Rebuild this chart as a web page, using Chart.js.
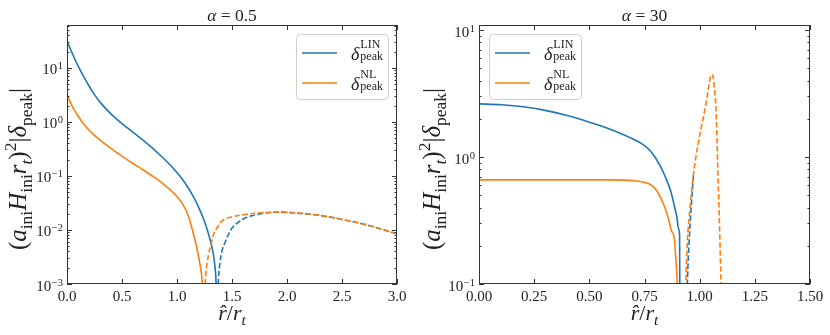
<!DOCTYPE html>
<html>
<head>
<meta charset="utf-8">
<script src="https://cdn.jsdelivr.net/npm/chart.js@4.4.1/dist/chart.umd.min.js"></script>
<style>
  body { margin: 0; background: #fff; }
  #wrap { position: relative; width: 830px; height: 335px; }
  .panel { position: absolute; top: 0; width: 415px; height: 335px; }
</style>
</head>
<body>
<div id="wrap">
  <div class="panel" style="left:0"><canvas id="left" width="415" height="335"></canvas></div>
  <div class="panel" style="left:415px"><canvas id="right" width="415" height="335"></canvas></div>
</div>
<script>
// ---- left panel, alpha = 0.5 ----
const leftLinR = [0, 0.06, 0.12, 0.18, 0.24, 0.31, 0.39, 0.47, 0.543, 0.62, 0.694, 0.77, 0.845, 0.92, 0.997, 1.07, 1.148, 1.2, 1.25, 1.3, 1.33, 1.35, 1.36];
const leftLinD = [31.6, 16.3, 9.12, 5.47, 3.42, 2.21, 1.476, 1.05, 0.796, 0.6, 0.455, 0.338, 0.245, 0.174, 0.1175, 0.0759, 0.042, 0.0254, 0.0143, 0.00676, 0.00363, 0.00166, 0.0005];
const leftNlR = [0, 0.04, 0.088, 0.16, 0.24, 0.31, 0.39, 0.47, 0.543, 0.62, 0.694, 0.77, 0.845, 0.92, 0.966, 1.01, 1.057, 1.1, 1.14, 1.18, 1.21, 1.225, 1.237];
const leftNlD = [3.26, 2.09, 1.41, 0.869, 0.59, 0.445, 0.334, 0.256, 0.203, 0.161, 0.129, 0.102, 0.0794, 0.0598, 0.0492, 0.0394, 0.0288, 0.019, 0.01, 0.0047, 0.00224, 0.0014, 0.0005];
const leftLinNegR = [1.37, 1.378, 1.39, 1.41, 1.436, 1.47, 1.51, 1.57, 1.63, 1.7, 1.785, 1.88, 1.95, 2.0, 2.25, 2.5, 2.75, 3.0];
const leftLinNegD = [0.0005, 0.0013, 0.0024, 0.0042, 0.0058, 0.0085, 0.0115, 0.0145, 0.017, 0.0188, 0.0204, 0.0213, 0.0214, 0.0212, 0.0192, 0.0157, 0.012, 0.0085];
const leftNlNegR = [1.252, 1.262, 1.29, 1.315, 1.33, 1.37, 1.42, 1.5, 1.63, 1.75, 1.875, 1.95, 2.0, 2.25, 2.5, 2.75, 3.0];
const leftNlNegD = [0.0005, 0.0015, 0.0038, 0.006, 0.0081, 0.0115, 0.0153, 0.0175, 0.0195, 0.0207, 0.0213, 0.0214, 0.0212, 0.0192, 0.0157, 0.012, 0.0085];

// ---- right panel, alpha = 30 ----
const rightLinR = [0, 0.1, 0.2, 0.3, 0.4, 0.5, 0.6, 0.7, 0.75, 0.78, 0.82, 0.85, 0.87, 0.89, 0.896, 0.905, 0.909, 0.9105];
const rightLinD = [2.62, 2.58, 2.49, 2.33, 2.12, 1.88, 1.64, 1.38, 1.23, 1.1, 0.86, 0.66, 0.53, 0.38, 0.343, 0.27, 0.24, 0.05];
const rightNlR = [0, 0.2, 0.4, 0.6, 0.68, 0.72, 0.75, 0.775, 0.8, 0.82, 0.84, 0.85, 0.86, 0.873, 0.884, 0.9015];
const rightNlD = [0.66, 0.66, 0.66, 0.66, 0.655, 0.645, 0.63, 0.61, 0.56, 0.49, 0.41, 0.365, 0.32, 0.26, 0.235, 0.085];
const rightLinNegR = [0.943, 0.947, 0.952, 0.957, 0.962, 0.967, 0.972];
const rightLinNegD = [0.085, 0.14, 0.21, 0.3, 0.41, 0.55, 0.72];
const rightNlNegR = [0.935, 0.944, 0.956, 0.971, 0.994, 1.01, 1.024, 1.034, 1.042, 1.048, 1.054, 1.058, 1.062, 1.068, 1.074, 1.079, 1.083, 1.088, 1.092, 1.098];
const rightNlNegD = [0.08, 0.21, 0.39, 0.71, 1.30, 1.8, 2.38, 3.0, 3.7, 4.2, 4.45, 4.4, 4.2, 3.3, 2.38, 1.30, 0.71, 0.39, 0.21, 0.085];

// ---- ticks and labels ----
const leftXTicks = [0, 0.5, 1, 1.5, 2, 2.5, 3];
const rightXTicks = [0, 0.25, 0.5, 0.75, 1, 1.25, 1.5];
const leftYDecades = [-3, -2, -1, 0, 1];
const rightYDecades = [-1, 0, 1];
const alphaLeft = '0.5';
const alphaRight = '30';
const seriesNames = ['LIN', 'NL'];

const BLUE = '#1f77b4', ORANGE = '#ff7f0e';
const SERIF = '"Liberation Serif", "DejaVu Serif", serif';

function pts(xs, ys) { return xs.map((x, i) => ({ x: x, y: ys[i] })); }

// draws a row of text parts; style: i italic, _ subscript, ^ superscript
function richText(ctx, parts, x, y, size, align) {
  const items = parts.map(([t, s]) => {
    const small = s.indexOf('_') >= 0 || s.indexOf('^') >= 0;
    const fs = small ? size * 0.7 : size;
    const font = (s.indexOf('i') >= 0 ? 'italic ' : '') + fs.toFixed(1) + 'px ' + SERIF;
    ctx.font = font;
    const dy = s.indexOf('_') >= 0 ? size * 0.22 : s.indexOf('^') >= 0 ? -size * 0.42 : 0;
    return { t: t, font: font, dy: dy, w: ctx.measureText(t).width };
  });
  const total = items.reduce((s, it) => s + it.w, 0);
  let cx = align === 'center' ? x - total / 2 : align === 'right' ? x - total : x;
  ctx.textAlign = 'left';
  ctx.textBaseline = 'alphabetic';
  items.forEach(it => { ctx.font = it.font; ctx.fillText(it.t, cx, y + it.dy); cx += it.w; });
  return total;
}

const framePlugin = {
  id: 'frame',
  afterDraw(chart) {
    const o = chart.options.plugins.frame;
    const { ctx, chartArea: a, scales: { x, y } } = chart;
    ctx.save();
    ctx.strokeStyle = '#333';
    ctx.lineWidth = 1;
    ctx.strokeRect(a.left + 0.5, a.top + 0.5, a.right - a.left - 1, a.bottom - a.top - 1);

    // inward ticks on all four sides
    ctx.beginPath();
    o.xTicks.forEach(v => {
      const px = Math.round(x.getPixelForValue(v)) + 0.5;
      ctx.moveTo(px, a.bottom); ctx.lineTo(px, a.bottom - 5);
      ctx.moveTo(px, a.top); ctx.lineTo(px, a.top + 5);
    });
    o.yDecades.concat([o.yDecades[0] - 1]).forEach(d => {
      for (let m = 1; m < 10; m++) {
        const v = m * Math.pow(10, d);
        if (v < y.min * 0.999 || v > y.max) continue;
        const py = Math.round(y.getPixelForValue(v)) + 0.5;
        const len = m === 1 ? 5 : 2.5;
        ctx.moveTo(a.left, py); ctx.lineTo(a.left + len, py);
        ctx.moveTo(a.right, py); ctx.lineTo(a.right - len, py);
      }
    });
    ctx.stroke();

    ctx.fillStyle = '#222';
    // y tick labels 10^n
    o.yDecades.forEach(d => {
      const py = y.getPixelForValue(Math.pow(10, d));
      const sup = String(d).replace('-', '\u2212');
      ctx.font = '10.5px ' + SERIF;
      const ws = ctx.measureText(sup).width;
      ctx.textAlign = 'left';
      ctx.textBaseline = 'alphabetic';
      ctx.fillText(sup, a.left - 4 - ws, py + 1.5);
      ctx.font = '15px ' + SERIF;
      ctx.textAlign = 'right';
      ctx.fillText('10', a.left - 4.5 - ws, py + 6.5);
    });

    const cx = (a.left + a.right) / 2;
    // title
    richText(ctx, [['\u03b1', 'i'], [' = ' + o.alpha, 'r']], cx, 20.5, 17.5, 'center');
    // x label
    richText(ctx, [['r\u0302', 'i'], ['/', 'r'], ['r', 'i'], ['t', 'i_']], cx, 320, 22, 'center');
    // y label
    ctx.save();
    ctx.translate(o.yLabelX, 169);
    ctx.rotate(-Math.PI / 2);
    richText(ctx, [['(', 'r'], ['a', 'i'], ['ini', '_'], ['H', 'i'], ['ini', '_'], ['r', 'i'], ['t', 'i_'],
      [')', 'r'], ['2', '^'], ['|', 'r'], ['\u03b4', 'i'], ['peak', '_'], ['|', 'r']], 0, 0, 25, 'center');
    ctx.restore();

    // legend
    const bw = 92, bh = 65;
    const bx = o.legendSide === 'right' ? a.right - 9 - bw : a.left + 10;
    const by = a.top + 9;
    ctx.beginPath();
    ctx.roundRect(bx + 0.5, by + 0.5, bw, bh, 4);
    ctx.fillStyle = 'rgba(255,255,255,0.8)';
    ctx.fill();
    ctx.strokeStyle = '#cccccc';
    ctx.stroke();
    const sets = chart.data.datasets.filter(ds => ds.legend).sort((p, q) => p.legendRank - q.legendRank);
    sets.forEach((ds, i) => {
      const ly = by + 19 + i * 30;
      ctx.strokeStyle = ds.borderColor;
      ctx.lineWidth = 1.6;
      ctx.setLineDash([]);
      ctx.beginPath();
      ctx.moveTo(bx + 6, ly); ctx.lineTo(bx + 41, ly);
      ctx.stroke();
      ctx.fillStyle = '#222';
      ctx.textAlign = 'left';
      ctx.textBaseline = 'alphabetic';
      ctx.font = 'italic 18px ' + SERIF;
      const tx = bx + 55;
      ctx.fillText('\u03b4', tx, ly + 7);
      const wd = ctx.measureText('\u03b4').width + 1;
      ctx.font = '12px ' + SERIF;
      ctx.fillText(ds.legend, tx + wd, ly - 5);
      ctx.fillText('peak', tx + wd, ly + 7);
    });
    ctx.restore();
  }
};

function makeChart(id, p) {
  const line = (data, color, dashed, legendIdx) => ({
    data: data,
    borderColor: color,
    borderWidth: 1.6,
    borderDash: dashed ? [5.5, 2.5] : [],
    pointRadius: 0,
    fill: false,
    tension: p.smooth ? 0.4 : 0,
    cubicInterpolationMode: p.smooth ? 'default' : 'monotone',
    legend: legendIdx === undefined ? null : seriesNames[legendIdx],
    legendRank: legendIdx
  });
  return new Chart(document.getElementById(id), {
    type: 'line',
    data: {
      datasets: [
        line(pts(p.nlNegR, p.nlNegD), ORANGE, true),
        line(pts(p.linNegR, p.linNegD), BLUE, true),
        line(pts(p.nlR, p.nlD), ORANGE, false, 1),
        line(pts(p.linR, p.linD), BLUE, false, 0)
      ]
    },
    options: {
      responsive: false,
      devicePixelRatio: 1,
      animation: false,
      layout: { padding: { top: 25, right: p.padRight, left: 0, bottom: 0 } },
      plugins: {
        legend: { display: false },
        tooltip: { enabled: false },
        frame: { xTicks: p.xTicks, yDecades: p.yDecades, alpha: p.alpha, yLabelX: p.yLabelX, legendSide: p.legendSide }
      },
      scales: {
        x: {
          type: 'linear',
          min: p.xTicks[0],
          max: p.xTicks[p.xTicks.length - 1],
          grid: { display: false, drawTicks: false },
          border: { display: false },
          afterBuildTicks: s => { s.ticks = p.xTicks.map(v => ({ value: v })); },
          afterFit: s => { s.height = 51; },
          ticks: {
            autoSkip: false,
            maxRotation: 0,
            padding: 4,
            color: '#222',
            font: { family: SERIF, size: 15 },
            callback: v => v.toFixed(p.xDigits)
          }
        },
        y: {
          type: 'logarithmic',
          min: p.yMin,
          max: p.yMax,
          grid: { display: false, drawTicks: false },
          border: { display: false },
          afterFit: s => { s.width = p.yWidth; },
          ticks: { display: false }
        }
      }
    },
    plugins: [framePlugin]
  });
}

makeChart('left', {
  linR: leftLinR, linD: leftLinD, nlR: leftNlR, nlD: leftNlD,
  linNegR: leftLinNegR, linNegD: leftLinNegD, nlNegR: leftNlNegR, nlNegD: leftNlNegD,
  xTicks: leftXTicks, xDigits: 1, yDecades: leftYDecades, yMin: 1e-3, yMax: 62.5,
  alpha: alphaLeft, padRight: 18, yWidth: 67, yLabelX: 26, legendSide: 'right', smooth: true
});
makeChart('right', {
  linR: rightLinR, linD: rightLinD, nlR: rightNlR, nlD: rightNlD,
  linNegR: rightLinNegR, linNegD: rightLinNegD, nlNegR: rightNlNegR, nlNegD: rightNlNegD,
  xTicks: rightXTicks, xDigits: 2, yDecades: rightYDecades, yMin: 0.1, yMax: 10.95,
  alpha: alphaRight, padRight: 20, yWidth: 64, yLabelX: 25, legendSide: 'left', smooth: false
});
</script>
</body>
</html>
